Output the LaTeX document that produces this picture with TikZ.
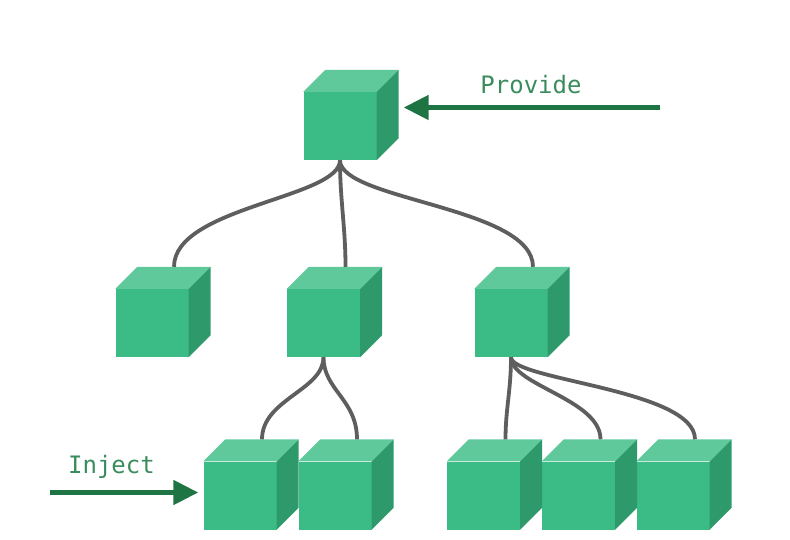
\documentclass[tikz,border=0pt]{standalone}
\usepackage{fontspec}
\setmonofont{DejaVu Sans Mono}
\usepackage{tikz}
\usepackage{xcolor}
\usetikzlibrary{arrows.meta, positioning, calc}

\definecolor{cubefront}{HTML}{3BBC86}
\definecolor{cubetop}{HTML}{5FC99B}
\definecolor{cubeside}{HTML}{2E9A6B}
\definecolor{treeline}{HTML}{5E5E5E}
\definecolor{arrowgreen}{HTML}{1E7543}
\definecolor{labelgreen}{HTML}{3A8C5E}

\begin{document}
\begin{tikzpicture}[
    x=1pt, y=-1pt,
    cube/.style={rectangle, minimum width=73pt, minimum height=68pt, inner sep=0pt, fill=cubefront},
    branch/.style={draw=treeline, line width=3.8pt},
    flow/.style={draw=arrowgreen, line width=5pt, -{Triangle[length=25pt, width=24pt]}},
    tag/.style={font=\ttfamily\fontsize{24}{28}\selectfont, text=labelgreen}
]
    \useasboundingbox (0,0) rectangle (790,540);

    % Root Node
    \node[cube] (root) at (340,126) {};

    % Level 1
    \node[cube] (c1) at (152,323) {};
    \node[cube] (c2) at (323.5,323) {};
    \node[cube] (c3) at (511,323) {};

    % Level 2
    \node[cube] (c2a) at (240,495.5) {};
    \node[cube] (c2b) at (335,495.5) {};
    \node[cube] (c3a) at (483.5,495.5) {};
    \node[cube] (c3b) at (578.5,495.5) {};
    \node[cube] (c3c) at (673,495.5) {};

    % Top and side faces
    \foreach \n in {root,c1,c2,c3,c2a,c2b,c3a,c3b,c3c} {
        \fill[cubetop] (\n.north west) -- ++(22pt,22pt) -- ([shift={(22pt,22pt)}]\n.north east) -- (\n.north east) -- cycle;
        \fill[cubeside] (\n.north east) -- ++(22pt,22pt) -- ([shift={(22pt,22pt)}]\n.south east) -- (\n.south east) -- cycle;
        \coordinate (\n-top) at ([shift={(22pt,22pt)}]\n.north);
    }

    % Branches
    \draw[branch] (root.south) .. controls ++(0,38) and ($(c1-top)+(0,-60)$) .. (c1-top);
    \draw[branch] (root.south) .. controls ++(0,40) and ($(c2-top)+(0,-40)$) .. (c2-top);
    \draw[branch] (root.south) .. controls ++(0,40) and ($(c3-top)+(0,-60)$) .. (c3-top);
    \draw[branch] (c2.south) .. controls ++(0,33) and ($(c2a-top)+(0,-40)$) .. (c2a-top);
    \draw[branch] (c2.south) .. controls ++(0,33) and ($(c2b-top)+(0,-40)$) .. (c2b-top);
    \draw[branch] (c3.south) .. controls ++(0,33) and ($(c3a-top)+(0,-30)$) .. (c3a-top);
    \draw[branch] (c3.south) .. controls ++(0,28) and ($(c3b-top)+(0,-40)$) .. (c3b-top);
    \draw[branch] (c3.south) .. controls ++(0,23) and ($(c3c-top)+(0,-50)$) .. (c3c-top);

    % Provide / Inject
    \coordinate (provstart) at (660,107.5);
    \coordinate (injstart) at (50,492.5);
    \draw[flow] (provstart) -- ([xshift=27pt]root.east |- provstart);
    \draw[flow] (injstart) -- ([xshift=-5pt]c2a.west |- injstart);
    \node[tag] (provide) at (531,85) {Provide};
    \node[tag] (inject) at (111.5,467) {Inject};
\end{tikzpicture}
\end{document}
